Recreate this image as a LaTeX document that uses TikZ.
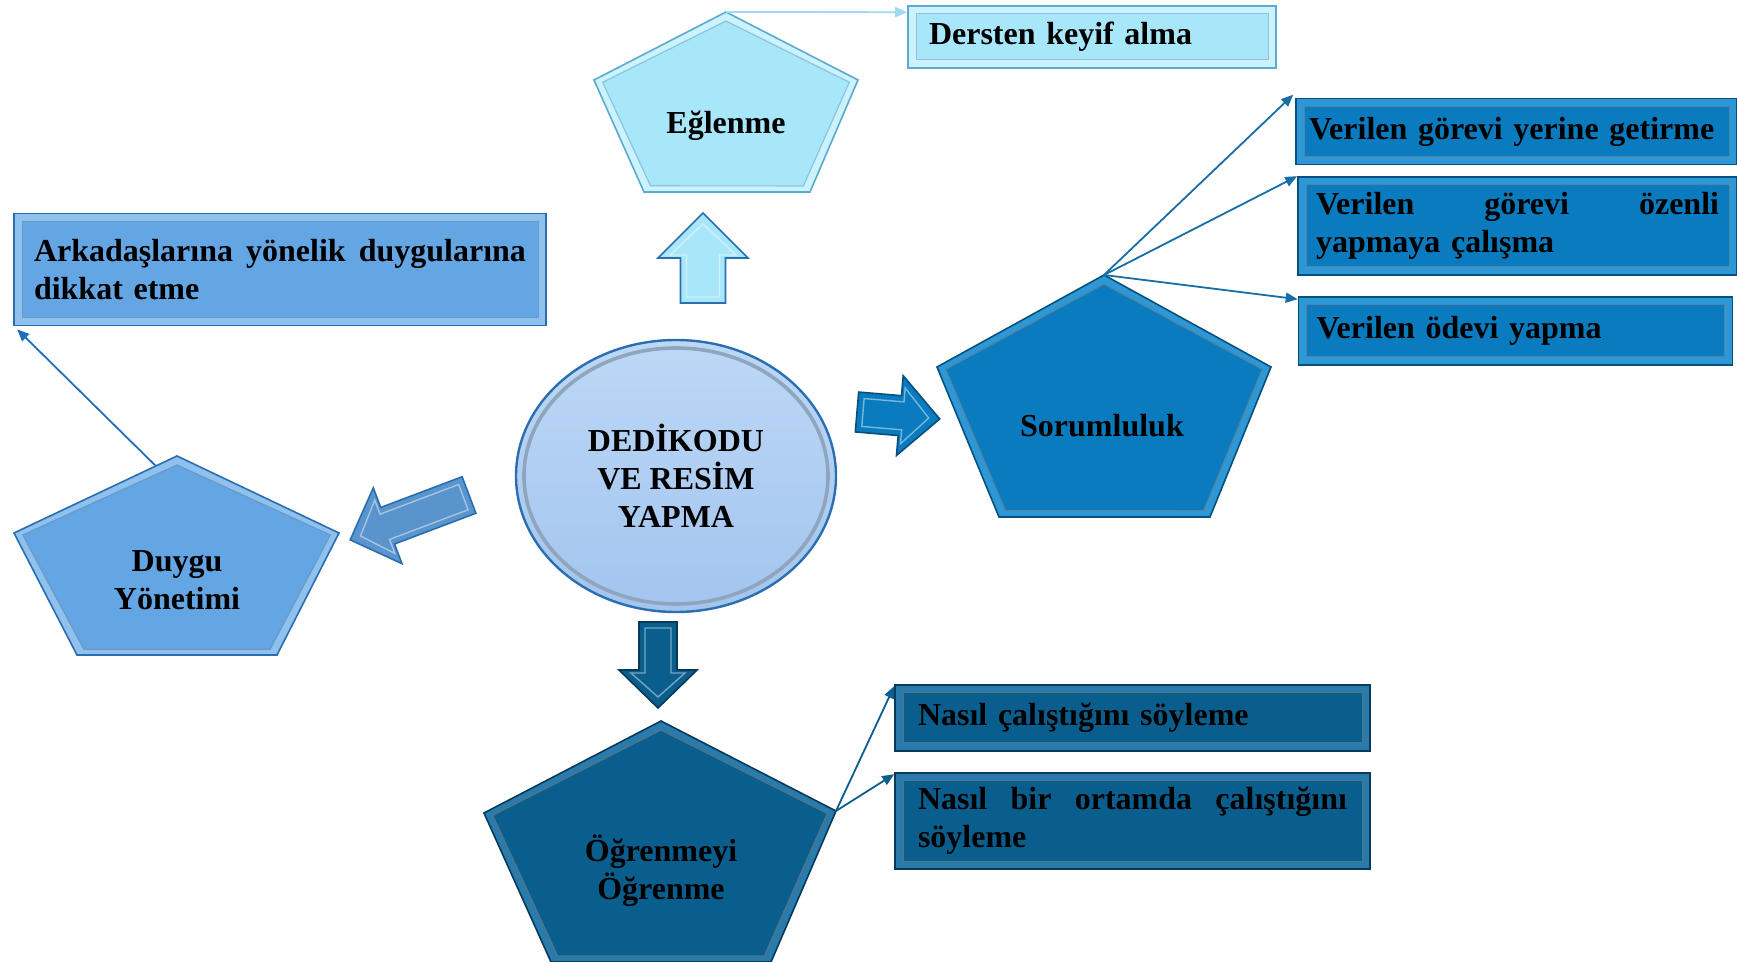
\documentclass[tikz,border=0pt]{standalone}
\usepackage{fontspec}
\setmainfont{Liberation Serif}
\usetikzlibrary{calc,shapes.geometric,arrows.meta}

\definecolor{cyL}{HTML}{CBF2FD}
\definecolor{cyM}{HTML}{A8E6FA}
\definecolor{cyD}{HTML}{5BAAD0}
\definecolor{mbL}{HTML}{8EC1EE}
\definecolor{mbM}{HTML}{64A5E3}
\definecolor{mbD}{HTML}{2A6DB0}
\definecolor{sbL}{HTML}{2E98D6}
\definecolor{sbM}{HTML}{0A7BBE}
\definecolor{sbD}{HTML}{07507E}
\definecolor{dbL}{HTML}{2A7BAB}
\definecolor{dbM}{HTML}{0A5E8E}
\definecolor{dbD}{HTML}{053A5A}
\definecolor{elT}{HTML}{BDD8F6}
\definecolor{elB}{HTML}{A2C4EE}
\definecolor{elD}{HTML}{2B6FB0}
\definecolor{elR}{HTML}{8FA5BE}
\definecolor{lnC}{HTML}{9FD9F2}
\definecolor{lnM}{HTML}{1F6FBF}
\definecolor{lnS}{HTML}{176EA6}
\definecolor{lnD}{HTML}{0D5E8C}

\hyphenpenalty=10000

\newcommand\pentagon[4]{%
  \filldraw[fill=#2, draw=#4, line width=0.8pt, line join=miter]
    (#1-1) -- (#1-2) -- (#1-3) -- (#1-4) -- (#1-5) -- cycle;
  \filldraw[fill=#3, draw=#4!70, line width=0.6pt, line join=miter]
    ($(#1-1)!4.5pt!(#1-c)$) -- ($(#1-2)!4.5pt!(#1-c)$) -- ($(#1-3)!4.5pt!(#1-c)$)
    -- ($(#1-4)!4.5pt!(#1-c)$) -- ($(#1-5)!4.5pt!(#1-c)$) -- cycle;
}

\newcommand\blockarrow[8]{%
  \begin{scope}[shift={#1}, rotate=#2]
    \filldraw[fill=#7, draw=#8, line width=0.8pt, line join=miter]
      (0,{-#4/2}) -- ({#3-#6},{-#4/2}) -- ({#3-#6},{-#5/2}) -- (#3,0)
      -- ({#3-#6},{#5/2}) -- ({#3-#6},{#4/2}) -- (0,{#4/2}) -- cycle;
    \draw[draw=#7!55!white, line width=0.7pt, line join=miter]
      (6,{-#4/2+6}) -- ({#3-#6+3},{-#4/2+6}) -- ({#3-#6+3},{-#5/2+12}) -- ({#3-11},0)
      -- ({#3-#6+3},{#5/2-12}) -- ({#3-#6+3},{#4/2-6}) -- (6,{#4/2-6}) -- cycle;
  \end{scope}
}

\tikzset{
  txt/.style={font=\fontsize{16}{19}\selectfont\bfseries, text=black},
  tbox/.style={rectangle, txt, align=left, inner ysep=0pt},
  bbox/.style n args={3}{fill=#1, draw=#3, line width=0.8pt,
    path picture={\filldraw[fill=#2, draw=#3!70, line width=0.5pt]
      ($(path picture bounding box.north west)+(4pt,-4pt)$) rectangle
      ($(path picture bounding box.south east)+(-4pt,4pt)$);}},
  conn/.style={line width=0.9pt, -{Triangle[length=6pt,width=5pt]}},
}

\begin{document}
\begin{tikzpicture}[x=0.5pt,y=-0.5pt]
\useasboundingbox (0,0) rectangle (1737,962);
\fill[white] (0,0) rectangle (1737,962);

% ---------- pentagon vertices ----------
\coordinate (eg-1) at (726,12);  \coordinate (eg-2) at (858,80);
\coordinate (eg-3) at (810,192); \coordinate (eg-4) at (644,192);
\coordinate (eg-5) at (594,80);  \coordinate (eg-c) at (726,115);

\coordinate (du-1) at (177,456); \coordinate (du-2) at (339,533);
\coordinate (du-3) at (277,655); \coordinate (du-4) at (77,655);
\coordinate (du-5) at (14,533);  \coordinate (du-c) at (177,570);

\coordinate (so-1) at (1104,275); \coordinate (so-2) at (1271,367);
\coordinate (so-3) at (1210,517); \coordinate (so-4) at (999,517);
\coordinate (so-5) at (937,367);  \coordinate (so-c) at (1104,410);

\coordinate (og-1) at (661,721); \coordinate (og-2) at (836,811);
\coordinate (og-3) at (771,962); \coordinate (og-4) at (551,962);
\coordinate (og-5) at (484,813); \coordinate (og-c) at (661,860);

\pentagon{eg}{cyL}{cyM}{cyD}
\pentagon{du}{mbL}{mbM}{mbD}
\pentagon{so}{sbL}{sbM}{sbD}
\pentagon{og}{dbL}{dbM}{dbD}

\node[txt] (egt) at (726,126) {Eğlenme};
\node[txt, align=center] (dut) at (177,580) {Duygu\\Yönetimi};
\node[txt] (sot) at (1102,426) {Sorumluluk};
\node[txt, align=center] (ogt) at (661,871) {Öğrenmeyi\\Öğrenme};

% ---------- central ellipse ----------
\node[ellipse, minimum width=160pt, minimum height=136pt, top color=elT, bottom color=elB,
      draw=elD, line width=1.2pt, txt, align=center,
      path picture={\draw[elR, line width=1.8pt] (path picture bounding box.center)
        ellipse [x radius=76pt, y radius=64pt];}] (core) at (676,476)
      {DEDİKODU\\VE RESİM\\YAPMA};

% ---------- block arrows ----------
\blockarrow{(703,303)}{90}{90}{45}{90}{45}{cyM}{elD}
\blockarrow{(469,495)}{200.7}{127}{39}{81}{40}{mbM!90!black}{mbD}
\blockarrow{(857,412)}{-4.8}{83}{40}{80}{40}{sbM}{sbD}
\blockarrow{(658,622)}{-90}{86}{38}{78}{38}{dbM}{dbD}

% ---------- boxes ----------
\node[tbox, bbox={cyL}{cyM}{cyD}, minimum width=184pt, minimum height=31pt,
      text width=163pt, inner xsep=10.5pt] (ders) at (1092,37) {Dersten keyif alma};
\node[tbox, bbox={mbL}{mbM}{mbD}, minimum width=266pt, minimum height=56pt,
      text width=246pt, inner xsep=10pt] (ark) at (280,269.5)
      {Arkadaşlarına\hfill yönelik\hfill duygularına\\dikkat etme};
\node[tbox, bbox={sbL}{sbM}{sbD}, minimum width=220.5pt, minimum height=33pt,
      text width=207.5pt, inner xsep=6.5pt] (vg1) at (1516.5,131.5)
      {Verilen görevi yerine getirme};
\node[tbox, bbox={sbL}{sbM}{sbD}, minimum width=219.5pt, minimum height=49pt,
      text width=201.5pt, inner xsep=9pt] (vg2) at (1517.5,226)
      {Verilen\hfill görevi\hfill özenli\\yapmaya çalışma};
\node[tbox, bbox={sbL}{sbM}{sbD}, minimum width=217pt, minimum height=34pt,
      text width=199pt, inner xsep=9pt] (vg3) at (1515.5,331)
      {Verilen ödevi yapma};
\node[tbox, bbox={dbL}{dbM}{dbD}, minimum width=237.5pt, minimum height=33pt,
      text width=214.5pt, inner xsep=11.5pt] (n1) at (1132.5,718)
      {Nasıl çalıştığını söyleme};
\node[tbox, bbox={dbL}{dbM}{dbD}, minimum width=237.5pt, minimum height=48pt,
      text width=214.5pt, inner xsep=11.5pt] (n2) at (1132.5,821)
      {Nasıl\hfill bir\hfill ortamda\hfill çalıştığını\\söyleme};

% ---------- connectors ----------
\coordinate (dersin) at ($(ders.north west)+(0pt,-3.5pt)$);
\draw[conn, lnC] (eg-1) -- (dersin);

\coordinate (du-a) at ($(du-1)!0.13!(du-5)$);
\coordinate (arkin) at ($(ark.south west)+(2pt,-1.5pt)$);
\draw[conn, lnM] (du-a) -- (arkin);

\coordinate (vg1in) at ($(vg1.north west)+(-1pt,1.5pt)$);
\coordinate (vg3in) at ($(vg3.north west)+(0pt,-1.5pt)$);
\draw[conn, lnS] (so-1) -- (vg1in);
\draw[conn, lnS] (so-1) -- (vg2.north west);
\draw[conn, lnS] (so-1) -- (vg3in);

\coordinate (n1in) at ($(n1.north west)+(0pt,-1pt)$);
\coordinate (n2in) at ($(n2.north west)+(0pt,-1pt)$);
\draw[conn, lnD] (og-2) -- (n1in);
\draw[conn, lnD] (og-2) -- (n2in);
\end{tikzpicture}
\end{document}
